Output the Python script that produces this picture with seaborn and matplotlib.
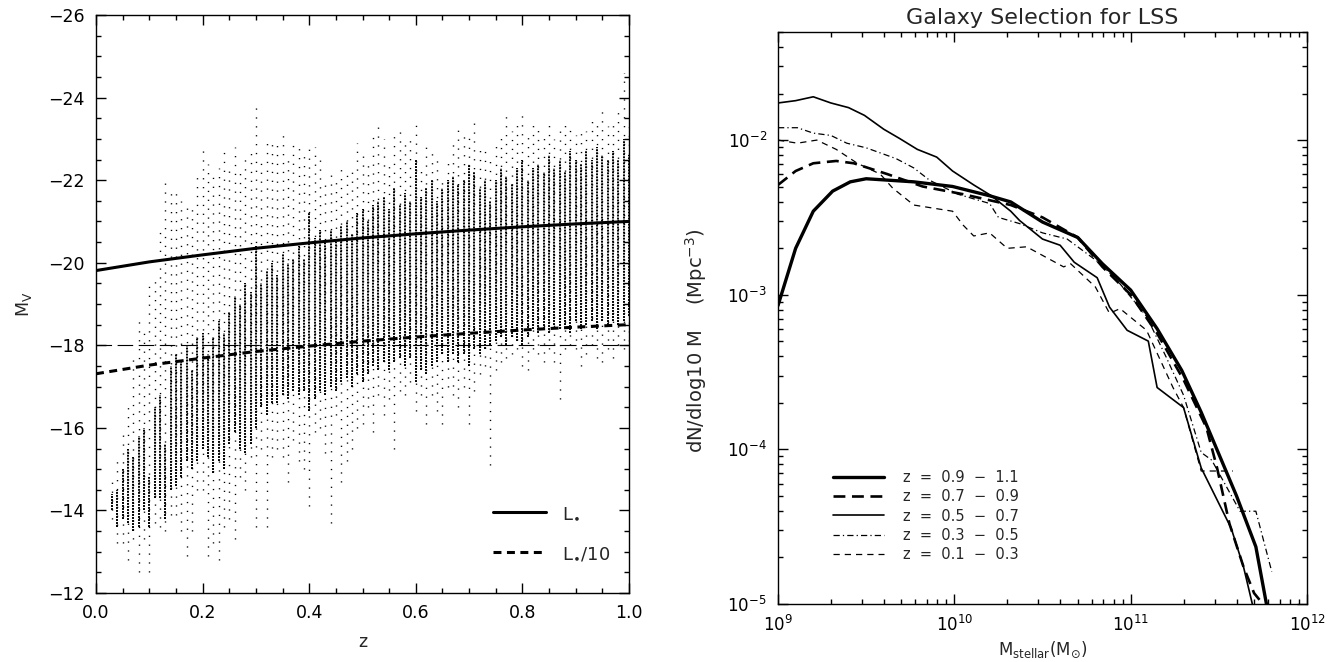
import numpy as np
import pandas as pd
import matplotlib
matplotlib.use("Agg")
import matplotlib.pyplot as plt
import seaborn as sns
from matplotlib.ticker import MultipleLocator, LogLocator, NullFormatter

# ---------------- data: left panel (M_V vs z) ----------------
# columns of galaxies at discrete redshifts: outer envelope (sparse) and dense core
z_cols = [0.03, 0.04, 0.05, 0.06, 0.07, 0.08, 0.09, 0.10, 0.11, 0.12, 0.13, 0.14, 0.15, 0.16,
          0.17, 0.18, 0.19, 0.20, 0.21, 0.22, 0.23, 0.24, 0.25, 0.26, 0.27, 0.28, 0.29, 0.30,
          0.31, 0.32, 0.33, 0.34, 0.35, 0.36, 0.37, 0.38, 0.39, 0.40, 0.41, 0.42, 0.43, 0.44,
          0.45, 0.46, 0.47, 0.48, 0.49, 0.50, 0.51, 0.52, 0.53, 0.54, 0.55, 0.56, 0.57, 0.58,
          0.59, 0.60, 0.61, 0.62, 0.63, 0.64, 0.65, 0.66, 0.67, 0.68, 0.69, 0.70, 0.71, 0.72,
          0.73, 0.74, 0.75, 0.76, 0.77, 0.78, 0.79, 0.80, 0.81, 0.82, 0.83, 0.84, 0.85, 0.86,
          0.87, 0.88, 0.89, 0.90, 0.91, 0.92, 0.93, 0.94, 0.95, 0.96, 0.97, 0.98, 0.99, 1.00]
env_top = [-14.7, -15.3, -15.9, -16.6, -17.8, -18.6, -18.3, -19.6, -19.6, -20.9, -22.1, -21.7, -21.8, -21.5,
           -21.4, -21.3, -22.2, -22.8, -22.4, -22.2, -22.3, -22.7, -22.3, -22.8, -22.2, -22.6, -22.8, -23.8,
           -22.5, -23.0, -22.9, -22.9, -23.1, -22.6, -23.0, -22.9, -22.7, -22.9, -22.8, -22.6, -22.0, -22.2,
           -22.1, -22.4, -22.3, -22.3, -22.9, -22.7, -22.5, -23.1, -23.4, -23.0, -22.4, -23.1, -23.2, -22.9,
           -23.0, -23.4, -22.4, -22.8, -22.8, -22.5, -22.1, -22.5, -23.0, -23.3, -23.1, -23.2, -23.4, -22.9,
           -22.8, -22.5, -23.0, -23.1, -23.6, -23.2, -23.4, -23.6, -23.2, -23.5, -23.3, -23.1, -23.4, -23.0,
           -23.2, -23.5, -23.3, -23.1, -23.3, -23.2, -23.6, -23.4, -23.8, -23.3, -23.4, -23.7, -24.6, -23.4]
core_top = [-14.4, -14.5, -15.0, -15.5, -15.3, -15.8, -16.0, -14.8, -16.5, -16.8, -15.6, -17.5, -17.8, -17.6,
            -18.0, -17.4, -18.2, -18.3, -17.8, -18.2, -18.6, -18.3, -18.8, -19.2, -19.0, -19.5, -19.3, -20.4,
            -19.5, -19.8, -20.0, -19.7, -20.2, -20.0, -20.1, -20.4, -20.1, -21.2, -20.6, -20.8, -20.5, -20.8,
            -20.5, -20.9, -21.0, -20.7, -21.2, -21.3, -21.0, -21.4, -21.5, -21.6, -21.3, -21.8, -21.4, -21.7,
            -21.5, -22.5, -21.6, -21.8, -22.0, -21.5, -21.8, -22.0, -22.1, -21.9, -22.0, -22.4, -22.2, -21.8,
            -22.0, -21.5, -22.0, -22.3, -22.1, -21.9, -22.3, -22.5, -22.0, -22.3, -22.4, -22.2, -22.6, -22.3,
            -22.5, -22.2, -22.7, -22.5, -22.4, -22.7, -22.5, -22.8, -22.6, -22.5, -22.7, -22.5, -23.0, -22.6]
core_bot = [-14.0, -13.6, -13.8, -13.7, -13.5, -13.6, -14.0, -13.6, -14.3, -14.3, -13.8, -14.5, -14.6, -14.8,
            -15.2, -15.0, -15.2, -15.5, -15.3, -14.9, -15.2, -15.0, -15.6, -15.9, -15.5, -15.4, -15.6, -16.0,
            -16.5, -16.3, -16.6, -16.6, -16.8, -16.7, -16.9, -16.8, -16.9, -16.4, -16.7, -16.9, -16.8, -17.0,
            -16.9, -17.1, -17.2, -17.0, -17.3, -17.1, -17.3, -17.5, -17.4, -17.6, -17.4, -17.6, -17.7, -17.5,
            -17.7, -17.1, -17.4, -17.3, -17.5, -17.6, -17.8, -17.6, -17.8, -17.6, -17.8, -17.5, -17.9, -17.8,
            -17.9, -18.0, -18.1, -18.2, -18.0, -18.2, -18.1, -18.0, -18.2, -18.4, -18.3, -18.4, -18.3, -18.5,
            -18.4, -18.5, -18.3, -18.6, -18.4, -18.5, -18.6, -18.4, -18.6, -18.5, -18.6, -18.5, -18.6, -18.7]
env_bot = [-13.8, -13.2, -13.2, -12.8, -13.3, -12.5, -13.3, -12.5, -13.7, -13.6, -13.5, -13.9, -13.9, -13.5,
           -12.9, -13.5, -14.5, -14.5, -12.9, -13.2, -12.8, -13.6, -13.8, -13.3, -14.8, -14.5, -15.3, -13.6,
           -15.5, -13.6, -15.3, -15.5, -15.3, -14.7, -15.7, -15.2, -15.0, -14.1, -15.9, -16.0, -15.4, -13.7,
           -16.3, -14.7, -15.2, -15.5, -16.0, -16.1, -16.5, -15.9, -16.8, -16.3, -16.7, -15.5, -16.9, -16.8,
           -17.1, -16.4, -16.8, -16.1, -16.8, -16.4, -16.1, -17.0, -16.8, -16.5, -17.0, -16.1, -16.9, -17.3,
           -17.5, -15.1, -17.4, -17.6, -17.7, -17.8, -17.9, -17.5, -17.4, -17.9, -17.8, -17.6, -17.9, -17.6,
           -16.7, -17.9, -18.0, -17.9, -17.5, -17.8, -18.0, -17.7, -17.6, -17.9, -17.7, -18.0, -17.9, -18.1]

# characteristic magnitude curves
z_curve = [0.0, 0.1, 0.2, 0.3, 0.4, 0.5, 0.6, 0.7, 0.8, 0.9, 1.0]
M_Lstar = [-19.81, -20.02, -20.19, -20.35, -20.48, -20.60, -20.70, -20.79, -20.87, -20.94, -21.00]
M_Lstar10 = [-17.31, -17.52, -17.69, -17.85, -17.98, -18.10, -18.20, -18.29, -18.37, -18.44, -18.50]
M_cut = -18.0

# ---------------- data: right panel (stellar mass functions) ----------------
labels = ["z  =  0.9  −  1.1", "z  =  0.7  −  0.9", "z  =  0.5  −  0.7", "z  =  0.3  −  0.5", "z  =  0.1  −  0.3"]
logM_a = [9.00, 9.10, 9.20, 9.31, 9.41, 9.50, 9.77, 9.99, 10.20, 10.32, 10.50, 10.70, 10.84, 11.00, 11.15, 11.29, 11.40, 11.60, 11.71, 11.77]
logn_a = [-3.07, -2.70, -2.46, -2.33, -2.27, -2.25, -2.27, -2.30, -2.36, -2.40, -2.53, -2.63, -2.80, -2.97, -3.22, -3.49, -3.76, -4.30, -4.63, -5.00]
logM_b = [9.00, 9.10, 9.20, 9.33, 9.43, 9.62, 9.82, 10.05, 10.32, 10.50, 10.70, 10.84, 11.00, 11.15, 11.30, 11.43, 11.49, 11.56, 11.64, 11.70, 11.75]
logn_b = [-2.29, -2.20, -2.15, -2.135, -2.15, -2.22, -2.30, -2.35, -2.42, -2.50, -2.63, -2.82, -3.00, -3.25, -3.55, -3.86, -4.12, -4.48, -4.76, -4.93, -5.00]
logM_c = [9.00, 9.10, 9.20, 9.30, 9.40, 9.49, 9.60, 9.69, 9.79, 9.90, 9.99, 10.11, 10.21, 10.32, 10.37, 10.50, 10.60, 10.68, 10.81, 10.88, 10.98, 11.10, 11.15, 11.30, 11.40, 11.57, 11.64, 11.69]
logn_c = [-1.76, -1.745, -1.72, -1.76, -1.79, -1.84, -1.93, -1.99, -2.06, -2.11, -2.20, -2.29, -2.36, -2.46, -2.52, -2.64, -2.68, -2.79, -2.89, -3.08, -3.23, -3.30, -3.60, -3.73, -4.12, -4.51, -4.76, -5.00]
logM_d = [9.00, 9.11, 9.20, 9.30, 9.39, 9.50, 9.67, 9.77, 9.86, 10.02, 10.20, 10.25, 10.37, 10.50, 10.64, 10.83, 10.94, 11.09, 11.20, 11.30, 11.40, 11.46, 11.62, 11.71, 11.80]
logn_d = [-1.92, -1.92, -1.955, -1.97, -2.02, -2.05, -2.12, -2.18, -2.26, -2.35, -2.41, -2.50, -2.54, -2.60, -2.64, -2.80, -2.93, -3.14, -3.40, -3.65, -4.02, -4.07, -4.40, -4.40, -4.79]
logM_e = [9.00, 9.11, 9.22, 9.33, 9.45, 9.58, 9.65, 9.77, 9.99, 10.05, 10.11, 10.20, 10.30, 10.41, 10.62, 10.66, 10.80, 10.88, 10.94, 11.09, 11.24, 11.30, 11.40, 11.58]
logn_e = [-2.00, -2.02, -2.00, -2.06, -2.15, -2.22, -2.31, -2.42, -2.46, -2.55, -2.62, -2.60, -2.70, -2.69, -2.82, -2.80, -2.95, -3.12, -3.09, -3.23, -3.60, -3.73, -4.14, -4.14]

# ---------------- style ----------------
sns.set_theme(style="ticks")
plt.rcParams['font.family'] = ['DejaVu Sans']
plt.rcParams['mathtext.default'] = 'regular'
plt.rcParams['axes.linewidth'] = 1.0
plt.rcParams['axes.edgecolor'] = 'black'
plt.rcParams['xtick.color'] = 'black'
plt.rcParams['ytick.color'] = 'black'

fig = plt.figure(figsize=(13.41, 6.62), dpi=100)
axL = fig.add_axes([96/1341, 1-593/662, (629-96)/1341, (593-15)/662])
axR = fig.add_axes([778/1341, 1-604/662, (1307-778)/1341, (604-32)/662])

# ---------------- left panel ----------------
axL.vlines(z_cols, env_bot, env_top, colors='black', linewidth=1.0, linestyles=[(0, (0.9, 5.5))])
axL.vlines(z_cols, core_bot, core_top, colors='black', linewidth=1.4, linestyles=[(0, (1.0, 0.55))])

axL.axhline(M_cut, color='black', lw=0.8, linestyle=(0, (14, 5)))
df_l = pd.DataFrame({'z': z_curve, 'Lstar': M_Lstar, 'Lstar10': M_Lstar10})
sns.lineplot(data=df_l, x='z', y='Lstar', ax=axL, color='black', lw=2.2, label=r'L$_{\bullet}$')
sns.lineplot(data=df_l, x='z', y='Lstar10', ax=axL, color='black', lw=2.2,
             linestyle=(0, (2.6, 1.8)), label=r'L$_{\bullet}$/10')

axL.set_xlim(0, 1)
axL.set_ylim(-12, -26)
axL.xaxis.set_major_locator(MultipleLocator(0.2))
axL.xaxis.set_minor_locator(MultipleLocator(0.05))
axL.yaxis.set_major_locator(MultipleLocator(2))
axL.yaxis.set_minor_locator(MultipleLocator(0.5))
axL.xaxis.set_major_formatter(matplotlib.ticker.FormatStrFormatter('%.1f'))
axL.tick_params(which='both', direction='in', top=True, right=True, labelsize=12.5, pad=8)
axL.tick_params(which='major', length=7, width=1.0)
axL.tick_params(which='minor', length=3.5, width=1.0)
axL.set_xlabel('z', fontsize=12.5, labelpad=8)
axL.set_ylabel(r'M$_V$', fontsize=12.5, labelpad=10)
leg = axL.legend(loc='lower right', bbox_to_anchor=(0.995, 0.025), frameon=False, fontsize=13,
                 handlelength=2.9, handletextpad=0.9, labelspacing=1.2)

# ---------------- right panel ----------------
styles = [dict(lw=2.4, linestyle='-'),
          dict(lw=1.9, linestyle=(0, (4.5, 2.5))),
          dict(lw=1.2, linestyle='-'),
          dict(lw=0.9, linestyle=(0, (5, 2.5, 1, 2.5))),
          dict(lw=0.9, linestyle=(0, (5, 4)))]
series = [(logM_a, logn_a), (logM_b, logn_b), (logM_c, logn_c), (logM_d, logn_d), (logM_e, logn_e)]
for (lm, ln), lab, st in zip(series, labels, styles):
    df = pd.DataFrame({'M': 10.0 ** np.array(lm), 'n': 10.0 ** np.array(ln)})
    sns.lineplot(data=df, x='M', y='n', ax=axR, color='black', sort=False, estimator=None,
                 label=lab, **st)

axR.set_xscale('log')
axR.set_yscale('log')
axR.set_xlim(1e9, 1e12)
axR.set_ylim(1e-5, 5e-2)
axR.xaxis.set_major_locator(LogLocator(base=10, numticks=10))
axR.xaxis.set_minor_locator(LogLocator(base=10, subs=np.arange(2, 10), numticks=20))
axR.yaxis.set_major_locator(LogLocator(base=10, numticks=10))
axR.yaxis.set_minor_locator(LogLocator(base=10, subs=np.arange(2, 10), numticks=20))
axR.xaxis.set_minor_formatter(NullFormatter())
axR.yaxis.set_minor_formatter(NullFormatter())
axR.tick_params(which='both', direction='in', top=True, right=True, labelsize=12, pad=8)
axR.tick_params(which='major', length=7, width=1.0)
axR.tick_params(which='minor', length=3.5, width=1.0)
axR.set_title('Galaxy Selection for LSS', fontsize=16, pad=6)
axR.set_xlabel(r'M$_{stellar}$(M$_{\odot}$)', fontsize=12, labelpad=3)
axR.set_ylabel(r'dN/dlog10 M    (Mpc$^{-3}$)', fontsize=14, labelpad=6)
axR.yaxis.set_label_coords(-0.13, 0.46)
axR.legend(loc='lower left', bbox_to_anchor=(0.08, 0.05), frameon=False, fontsize=10.5,
           handlelength=3.5, handletextpad=1.3, labelspacing=0.3)

fig.savefig('out.png', dpi=100)
